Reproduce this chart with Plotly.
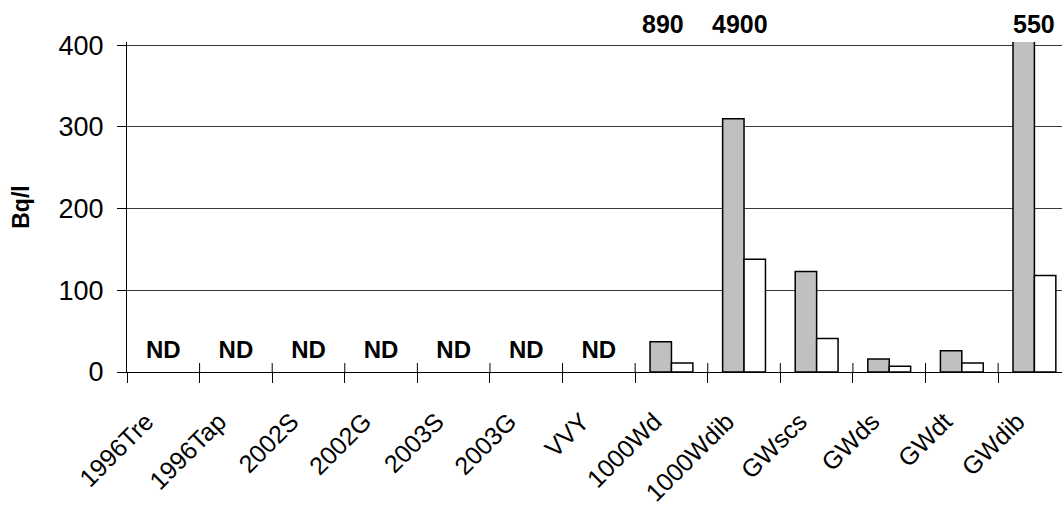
import plotly.graph_objects as go

# Sampling sites along the x axis
categories = ["1996Tre", "1996Tap", "2002S", "2002G", "2003S", "2003G", "VVY",
              "1000Wd", "1000Wdib", "GWscs", "GWds", "GWdt", "GWdib"]

# Activity concentrations (Bq/l); None where nothing was detected
gray_values = [None, None, None, None, None, None, None, 37, 310, 123, 16, 26, 550]
white_values = [None, None, None, None, None, None, None, 11, 138, 41, 7, 11, 118]

# Sites reported as not detected
nd_sites = ["1996Tre", "1996Tap", "2002S", "2002G", "2003S", "2003G", "VVY"]

# Values printed above the top of the axis
top_label_sites = ["1000Wd", "1000Wdib", "GWdib"]
top_label_texts = ["890", "4900", "550"]

FONT = "Liberation Sans, Arial, sans-serif"
Y_MAX = 404

fig = go.Figure()

fig.add_trace(go.Bar(
    x=categories, y=gray_values, name="gray",
    marker=dict(color="#c0c0c0", line=dict(color="#000000", width=1.5)),
    showlegend=False, hoverinfo="x+y",
))
fig.add_trace(go.Bar(
    x=categories, y=white_values, name="white",
    marker=dict(color="#ffffff", line=dict(color="#000000", width=1.5)),
    showlegend=False, hoverinfo="x+y",
))

# "ND" markers just above the baseline
fig.add_trace(go.Scatter(
    x=nd_sites, y=[25] * len(nd_sites), mode="text",
    text=["<b>ND</b>"] * len(nd_sites), textposition="middle center",
    textfont=dict(family=FONT, size=24, color="#000000"),
    showlegend=False, hoverinfo="skip", cliponaxis=False,
))

# upper halves of the category boundary ticks (they cross the x axis line)
for i in range(1, len(categories)):
    fig.add_shape(
        type="line", xref="x", yref="y",
        x0=i - 0.5, x1=i - 0.5, y0=0, y1=11,
        line=dict(color="#000000", width=1), layer="above",
    )

label_shifts = [-8, -4, 0]
for site, txt, dx in zip(top_label_sites, top_label_texts, label_shifts):
    fig.add_annotation(
        x=site, y=1.0545, xref="x", yref="paper", text=f"<b>{txt}</b>",
        showarrow=False, xshift=dx, yanchor="middle",
        font=dict(family=FONT, size=25, color="#000000"),
    )

x_range = [-0.5, 12.38]

fig.update_layout(
    width=1062, height=510,
    margin=dict(l=127, r=0, t=42, b=138),
    paper_bgcolor="#ffffff", plot_bgcolor="#ffffff",
    barmode="group", bargap=0.41, bargroupgap=0,
    font=dict(family=FONT, color="#000000"),
    xaxis=dict(
        type="category", categoryorder="array", categoryarray=categories,
        range=x_range, tickson="boundaries",
        ticks="outside", ticklen=10, tickwidth=1, tickcolor="#000000",
        tickangle=-45, tickfont=dict(family=FONT, size=25, color="#000000"),
        ticklabelshift=-17, ticklabelstandoff=24,
        showline=True, linecolor="#000000", linewidth=1,
        showgrid=False, zeroline=False,
    ),
    yaxis=dict(
        range=[0, Y_MAX], tickvals=[0, 100, 200, 300, 400],
        ticks="outside", ticklen=9, tickwidth=1, tickcolor="#000000",
        tickfont=dict(family=FONT, size=27, color="#000000"),
        ticklabelstandoff=8,
        showline=True, linecolor="#000000", linewidth=1,
        showgrid=True, gridcolor="#3a3a3a", gridwidth=1,
        zeroline=False,
        title=dict(text="<b>Bq/l</b>", font=dict(family=FONT, size=23, color="#000000"),
                   standoff=22),
    ),
)

fig.write_html("out.html")
